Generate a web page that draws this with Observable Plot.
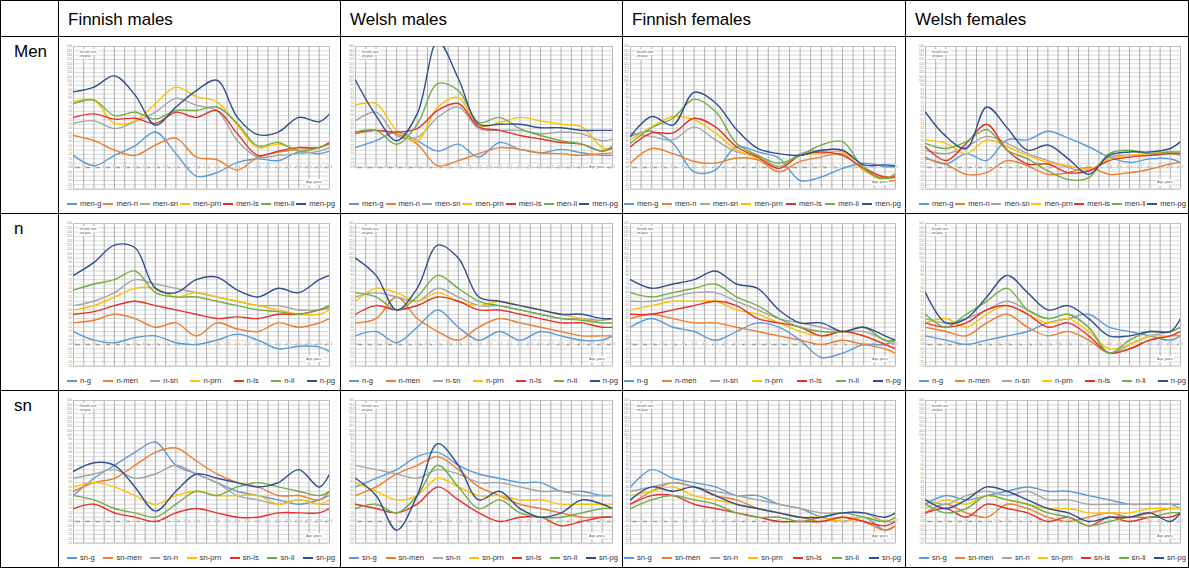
<!DOCTYPE html>
<html><head><meta charset="utf-8">
<script src="https://cdn.jsdelivr.net/npm/d3@7"></script>
<script src="https://cdn.jsdelivr.net/npm/@observablehq/plot@0.6"></script>
<style>
body{margin:0;background:#fff;font-family:"Liberation Sans",Arial,sans-serif;}
#grid{display:grid;background:#000;padding:1px;gap:1px;width:1187px;
 grid-template-columns:57px 281px 281px 282px 282px;grid-template-rows:35px 176px 176px 176px;}
.cell{background:#fff;position:relative;overflow:hidden;}
.head{font-size:17px;padding:9px 0 0 9px;color:#000;}
.rowlab{font-size:17px;padding:5px 0 0 13px;}
.legend{position:absolute;top:160px;height:12px;display:flex;justify-content:space-between;align-items:center;font-size:7.6px;color:#333;white-space:nowrap;}
.legend .sw{display:inline-block;width:10px;height:2px;margin-right:3px;vertical-align:middle;}
svg{display:block;}
</style></head><body>
<div id="grid"></div>
<script>
// ---------- categories / labels ----------
const columns = ["Finnish males","Welsh males","Finnish females","Welsh females"];
const rowLabels = ["Men","n","sn"];
const ages = [7,8,9,10,11,12,13,14,15,16,17,18,19,19.5];
const ageTicks = d3.range(7, 19.75, 0.5);
const seriesKeys = {
  Men: ["g","n","sn","prn","ls","li","pg"],
  n:   ["g","men","sn","prn","ls","li","pg"],
  sn:  ["g","men","n","prn","ls","li","pg"]
};
const seriesColors = ["#5B9BD5","#ED7D31","#A5A5A5","#FFC000","#E8302A","#70AD47","#2F4F8F"];

// ---------- row "Men" ----------
const finM_men = {
  g:  [1.4,0.2,1.4,2.5,4.1,1.6,-1.0,-0.6,0.6,1.0,0.8,1.8,1.6,1.9],
  n:  [3.7,3.1,2.0,1.4,2.6,3.4,1.2,0.9,-0.3,1.2,1.8,2.1,2.3,2.9],
  sn: [5.1,5.4,4.5,5.3,6.4,8.0,7.2,6.6,3.1,1.2,1.4,1.6,1.9,2.3],
  prn:[7.6,7.8,5.1,5.4,7.4,9.3,8.2,7.6,4.9,2.3,2.7,2.1,2.3,2.9],
  ls: [5.8,6.2,5.6,5.7,5.1,6.4,5.8,6.6,3.9,1.4,1.9,2.3,2.3,2.9],
  li: [7.4,7.8,6.0,6.4,5.6,6.6,6.6,7.0,5.1,2.5,2.9,1.9,2.3,2.7],
  pg: [8.75,9.3,10.6,8.4,4.9,7.0,8.9,10.1,5.8,3.8,4.1,5.8,5.3,6.2]
};
const welM_men = {
  g:  [2.3,3.1,4.1,3.1,1.9,2.7,1.2,2.9,2.1,1.7,2.1,1.7,1.4,1.4],
  n:  [3.9,4.3,3.9,2.7,0.2,0.8,1.6,2.3,2.1,1.7,1.6,1.4,1.6,1.7],
  sn: [5.4,6.4,3.7,3.5,5.8,7.0,4.5,4.3,4.3,3.9,4.1,3.9,3.1,3.3],
  prn:[7.2,7.4,4.3,3.1,7.0,8.1,4.8,5.2,5.8,5.4,5.0,4.7,2.3,2.1],
  ls: [4.1,4.3,4.1,4.5,6.6,7.4,4.7,4.3,3.7,3.3,2.9,2.7,1.9,2.3],
  li: [4.1,4.3,2.7,5.0,9.7,8.9,5.2,5.8,4.5,3.7,3.1,2.7,1.9,2.5],
  pg: [10.1,6.0,3.1,6.2,14.6,10.3,5.0,5.0,5.0,4.6,4.6,4.3,4.3,4.3]
};
const finF_men = {
  g:  [3.6,4.2,2.8,-0.5,-0.3,2.4,1.8,1.1,-1.5,-1.1,-0.1,0.5,0.1,0.1],
  n:  [0.5,2.2,1.6,0.7,0.5,1.1,0.9,-0.5,0.7,1.2,1.6,-0.3,-1.5,-1.5],
  sn: [4.0,3.6,3.2,4.7,3.2,1.8,1.4,0.1,1.6,2.0,2.0,0.1,-1.3,-1.1],
  prn:[3.2,4.7,5.9,5.5,4.0,2.0,1.1,-0.1,1.4,1.6,1.8,-0.3,-1.1,-0.9],
  ls: [2.4,4.0,4.0,5.7,4.7,2.4,1.2,-0.1,1.4,1.8,1.4,-0.1,-1.1,-1.1],
  li: [2.8,4.6,5.7,7.9,6.5,2.8,1.4,0.5,1.4,2.6,3.0,-0.1,-1.3,-0.7],
  pg: [3.6,5.9,4.9,8.7,7.5,4.4,2.2,1.6,1.4,2.0,2.0,0.3,0.3,0.2]
};
const welF_men = {
  g:  [1.2,0.4,1.6,0.8,3.2,3.2,4.2,3.4,2.4,1.2,0.6,1.0,1.0,0.6],
  n:  [1.0,0.4,-0.8,-0.6,0.8,0.2,-0.8,-0.6,0.0,-0.8,-0.6,-0.2,0.4,0.6],
  sn: [2.0,1.6,2.4,3.6,2.8,1.6,0.8,0.0,-0.4,1.2,1.4,1.4,1.6,1.4],
  prn:[3.2,2.8,1.6,3.2,2.4,1.4,0.6,0.2,-0.2,1.0,1.4,1.6,1.8,1.6],
  ls: [2.4,0.8,2.8,5.0,2.0,0.4,0.4,-0.6,-0.4,0.8,1.2,1.4,1.6,1.6],
  li: [2.8,2.2,3.0,4.4,2.0,1.0,-0.4,-1.4,-1.2,1.6,2.0,1.6,1.8,1.8],
  pg: [6.4,3.6,2.2,7.0,4.6,2.0,2.6,1.0,-0.8,1.4,1.8,1.8,2.2,3.0]
};
// ---------- row "n" ----------
const finM_n = {
  g:  [1.5,0.5,0.2,0.8,1.0,0.2,0.0,0.5,1.2,0.5,-0.5,-0.2,-0.3,-0.8],
  men:[2.5,2.8,3.5,3.0,2.0,2.5,1.0,2.5,1.8,1.5,2.5,2.0,2.5,3.0],
  sn: [4.5,5.0,6.0,7.5,7.0,6.5,6.0,5.5,5.0,4.5,4.5,4.0,4.0,4.2],
  prn:[4.0,4.5,5.5,6.5,6.5,5.5,6.0,5.5,5.0,4.5,4.0,3.5,3.5,4.0],
  ls: [3.5,3.8,4.5,5.0,4.5,4.0,3.5,3.0,3.2,3.0,3.5,3.5,4.0,4.5],
  li: [6.3,7.0,7.5,8.5,6.0,5.5,5.5,5.0,4.5,4.0,3.8,3.5,4.0,4.5],
  pg: [8.0,9.5,11.5,11.2,6.5,6.0,7.5,7.8,6.3,5.5,6.5,6.0,7.5,8.0]
};
const welM_n = {
  g:  [1.0,1.5,0.2,2.0,4.0,2.0,0.5,1.5,0.5,1.5,1.0,0.5,0.5,1.0],
  men:[2.5,3.0,5.5,3.0,1.5,0.5,2.0,3.0,2.5,2.0,1.5,1.0,1.0,1.0],
  sn: [5.5,6.0,5.5,5.0,6.5,5.5,4.5,4.5,4.0,3.5,3.0,3.0,2.8,3.0],
  prn:[5.0,6.5,6.0,5.0,6.0,5.0,4.5,5.0,4.5,4.0,3.5,3.0,2.5,2.5],
  ls: [3.5,4.5,4.0,4.5,5.5,5.0,4.0,4.0,3.5,3.0,2.5,2.5,2.0,2.0],
  li: [6.0,5.5,4.0,5.5,8.0,6.5,5.0,4.5,4.0,3.5,3.0,2.8,2.5,2.5],
  pg: [10.0,8.0,4.0,6.5,11.5,10.0,5.5,5.0,4.5,4.0,3.5,3.5,3.0,3.0]
};
const finF_n = {
  g:  [2.0,3.0,2.0,1.5,0.5,1.5,2.5,2.0,0.5,-1.5,-1.0,0.0,0.0,0.5],
  men:[3.0,3.5,3.0,2.5,2.5,2.0,1.5,1.0,0.5,0.0,0.5,0.0,-0.5,-1.0],
  sn: [5.0,5.0,5.5,6.0,6.0,5.0,4.0,3.0,2.5,2.0,1.5,1.5,0.5,0.0],
  prn:[4.0,4.5,5.0,5.0,5.0,4.0,3.5,2.5,1.5,1.0,1.5,1.0,0.0,-0.5],
  ls: [3.5,3.5,4.0,4.5,5.0,4.5,3.0,2.5,2.0,1.0,1.5,1.0,0.0,-0.5],
  li: [6.0,5.5,6.0,6.5,7.0,5.5,4.5,3.0,2.0,1.5,1.5,2.0,0.5,0.5],
  pg: [7.5,6.5,7.0,7.5,8.5,7.0,6.5,4.0,2.5,2.5,1.5,2.0,1.0,0.5]
};
const welF_n = {
  g:  [1.0,0.5,0.0,0.5,1.0,1.5,2.5,3.0,3.5,2.0,1.5,1.0,0.5,1.0],
  men:[2.0,1.5,1.0,2.5,3.5,2.0,1.0,1.5,0.5,-1.0,-0.5,0.5,1.0,1.0],
  sn: [3.0,2.5,3.0,4.0,5.0,4.0,3.0,3.5,2.0,-1.0,0.0,1.0,1.5,2.0],
  prn:[2.5,3.0,2.0,3.5,4.5,3.5,2.5,3.0,1.5,-0.5,0.0,1.0,1.0,1.5],
  ls: [2.5,2.0,2.5,4.0,4.5,3.5,2.0,2.5,1.0,-1.0,-0.5,0.5,1.0,1.5],
  li: [3.5,2.0,3.5,5.0,6.5,4.0,3.0,3.5,2.0,-1.0,0.5,1.5,1.5,2.0],
  pg: [6.0,2.5,3.0,5.5,8.0,6.0,4.0,4.5,3.0,1.0,1.0,1.5,1.5,3.0]
};
// ---------- row "sn" ----------
const finM_sn = {
  g:  [3.0,5.0,6.5,8.0,9.2,6.5,5.5,4.5,3.5,3.0,2.5,2.0,2.5,3.0],
  men:[3.5,4.5,5.0,6.5,8.0,8.5,7.0,5.5,4.5,4.0,3.0,3.0,2.5,3.5],
  n:  [5.0,5.5,6.0,5.0,5.5,6.5,5.5,4.5,3.0,2.5,2.0,2.5,2.0,2.0],
  prn:[4.0,4.5,4.0,3.0,2.0,3.0,3.5,3.0,3.0,3.0,2.0,2.5,2.0,2.5],
  ls: [1.5,2.0,1.0,0.5,0.0,1.0,1.5,1.0,0.5,0.5,1.0,1.0,1.0,1.5],
  li: [3.0,2.5,1.5,1.0,0.5,2.0,3.5,3.0,4.0,4.5,4.0,3.5,3.0,3.5],
  pg: [5.8,6.8,6.5,4.0,1.2,3.5,5.5,5.0,4.5,4.0,4.5,6.0,4.0,5.5]
};
const welM_sn = {
  g:  [4.0,5.0,6.0,7.5,8.0,6.5,5.5,5.0,4.5,4.5,3.5,3.5,3.0,3.0],
  men:[3.0,4.0,5.5,6.5,7.5,6.0,4.0,3.0,2.0,1.5,1.0,0.5,0.5,0.5],
  n:  [6.5,6.0,5.5,5.0,6.0,5.5,4.5,4.5,4.0,3.5,3.5,3.0,3.0,3.0],
  prn:[4.5,3.5,2.5,3.0,5.0,4.0,3.0,3.0,2.5,2.5,2.0,2.0,2.0,2.0],
  ls: [2.0,1.5,1.0,2.0,4.0,2.5,1.0,0.0,0.5,0.5,-0.5,0.0,0.5,0.5],
  li: [1.5,2.0,1.0,3.0,6.5,4.0,1.5,2.5,1.0,0.5,0.5,1.0,1.5,1.5],
  pg: [5.0,3.0,-1.0,3.0,9.0,6.5,2.5,3.5,1.5,0.5,1.0,2.5,2.0,1.5]
};
const finF_sn = {
  g:  [4.0,6.0,5.0,4.5,4.0,3.0,3.0,2.0,1.5,0.5,0.0,0.5,-1.0,-0.5],
  men:[2.0,3.5,4.5,4.0,3.0,2.5,1.5,1.0,0.5,0.0,0.5,0.0,-1.0,-0.5],
  n:  [3.5,4.0,4.5,4.0,3.5,3.0,2.5,2.0,1.5,1.0,1.0,1.0,0.0,0.0],
  prn:[3.0,3.5,4.0,3.0,2.5,2.0,1.5,1.0,0.5,0.5,0.0,0.5,0.0,0.5],
  ls: [2.0,3.0,3.0,2.0,1.5,1.0,0.5,0.0,0.0,0.0,0.5,0.0,-0.5,0.0],
  li: [1.5,2.5,3.0,2.5,2.0,1.0,0.5,0.5,0.0,0.5,1.0,0.5,0.0,0.5],
  pg: [2.5,4.0,3.5,4.0,3.0,2.0,1.5,1.0,0.5,0.5,1.0,1.0,0.5,1.0]
};
const welF_sn = {
  g:  [2.0,3.0,2.5,3.0,3.5,4.0,3.5,3.5,3.0,2.5,2.0,2.0,2.0,2.0],
  men:[1.0,2.0,1.0,0.5,2.0,1.5,0.5,0.0,0.5,1.0,0.5,1.0,1.5,1.5],
  n:  [2.5,2.0,3.0,3.5,3.0,3.5,2.5,2.5,2.0,2.0,2.0,2.0,2.0,1.5],
  prn:[1.5,2.5,2.0,3.0,2.5,2.0,1.5,1.5,1.0,1.0,1.0,1.5,1.5,1.5],
  ls: [1.0,1.5,0.5,2.0,1.5,1.0,0.0,0.5,-0.5,0.5,0.0,0.5,0.5,1.0],
  li: [2.0,1.0,1.5,3.0,2.5,2.0,1.0,0.5,-0.5,0.0,0.5,0.5,1.0,1.0],
  pg: [2.5,1.5,2.5,4.0,3.5,2.5,1.5,1.0,0.0,0.5,0.5,1.0,0.0,1.0]
};

const panels = [
  [finM_men, welM_men, finF_men, welF_men],
  [finM_n, welM_n, finF_n, welF_n],
  [finM_sn, welM_sn, finF_sn, welF_sn]
];
// per-panel lower bound of the growth-rate axis
const yMins = [[-2.5,0,-2.5,-2.5],[-2.5,-2.5,-2.5,-2.5],[-2.5,-2.5,-2.5,-2.5]];
const yMax = 14;

// ---------- layout ----------
const colW = [281,281,282,282];
const mLeft = [14,14,7,19];
const mRight = [11,10,10,8];
const H = 160, mTop = 9, pxPerUnit = 121/14;

const grid = document.getElementById("grid");
function cell(cls, html){const d=document.createElement("div");d.className="cell "+cls;if(html)d.textContent=html;grid.appendChild(d);return d;}
cell("", "");
columns.forEach(c=>cell("head", c));

rowLabels.forEach((rl, r)=>{
  cell("rowlab", rl);
  const keys = seriesKeys[rl];
  const pre = rl === "Men" ? "men" : rl;
  const labels = keys.map(k=>pre+"-"+k);
  panels[r].forEach((data, c)=>{
    const div = cell("", "");
    const yMin = yMins[r][c];
    const plotH = (yMax - yMin)*pxPerUnit;
    const mBottom = H - mTop - plotH;
    const long = keys.flatMap((k,i)=>data[k].map((v,j)=>({age:ages[j], v, s:labels[i]})));
    const yTicks = d3.range(yMin, yMax+0.01, 0.5);
    const chart = Plot.plot({
      width: colW[c], height: H,
      marginLeft: mLeft[c], marginRight: mRight[c], marginTop: mTop, marginBottom: mBottom,
      style:{background:"#fff", fontFamily:"Liberation Sans, Arial, sans-serif"},
      x:{domain:[7,19.5], axis:null},
      y:{domain:[yMin,yMax], axis:null},
      color:{domain:labels, range:seriesColors},
      marks:[
        Plot.ruleY(yTicks, {stroke:"#cfcfcf", strokeWidth:0.8}),
        Plot.ruleX(ageTicks, {stroke:"#9a9a9a", strokeWidth:0.8}),
        Plot.frame({stroke:"#bbb", strokeWidth:0.8}),
        Plot.ruleY([0], {stroke:"#9a9a9a", strokeWidth:1.6, strokeDasharray:"5,5", strokeDashoffset:-2}),
        Plot.text(yTicks, {y:d=>d, frameAnchor:"left", dx:-1.5, textAnchor:"end", text:d=>d3.format(".1f")(d), fontSize:2.6, fill:"#777"}),
        Plot.text(ageTicks, {x:d=>d, y:0, dy:0, text:d=>d3.format(".1f")(d), fontSize:2.6, fill:"#777", stroke:"#fff", strokeWidth:0.5}),
        Plot.line(long, {x:"age", y:"v", z:"s", stroke:"s", curve:"catmull-rom", strokeWidth:1.4, clip:true}),
        Plot.text(["Growth rate,\ncm/year"], {frameAnchor:"top-left", dx:6, dy:4, fontSize:3.2, fill:"#555", stroke:"#fff", strokeWidth:3, lineHeight:1.2}),
        Plot.text(["Age, years"], {frameAnchor:"bottom-right", dx:-8, dy:-(mBottom>20?0:6), fontSize:3.2, fill:"#555", stroke:"#fff", strokeWidth:3})
      ]
    });
    div.appendChild(chart);
    const lg = document.createElement("div");
    lg.className = "legend";
    lg.style.left = (mLeft[c]-6)+"px";
    lg.style.width = (colW[c]-mLeft[c]-mRight[c]+12)+"px";
    labels.forEach((l,i)=>{
      const it = document.createElement("span");
      const sw = document.createElement("span");
      sw.className = "sw";
      sw.style.background = seriesColors[i];
      it.appendChild(sw);
      it.appendChild(document.createTextNode(l));
      lg.appendChild(it);
    });
    div.appendChild(lg);
  });
});
</script>
</body></html>
